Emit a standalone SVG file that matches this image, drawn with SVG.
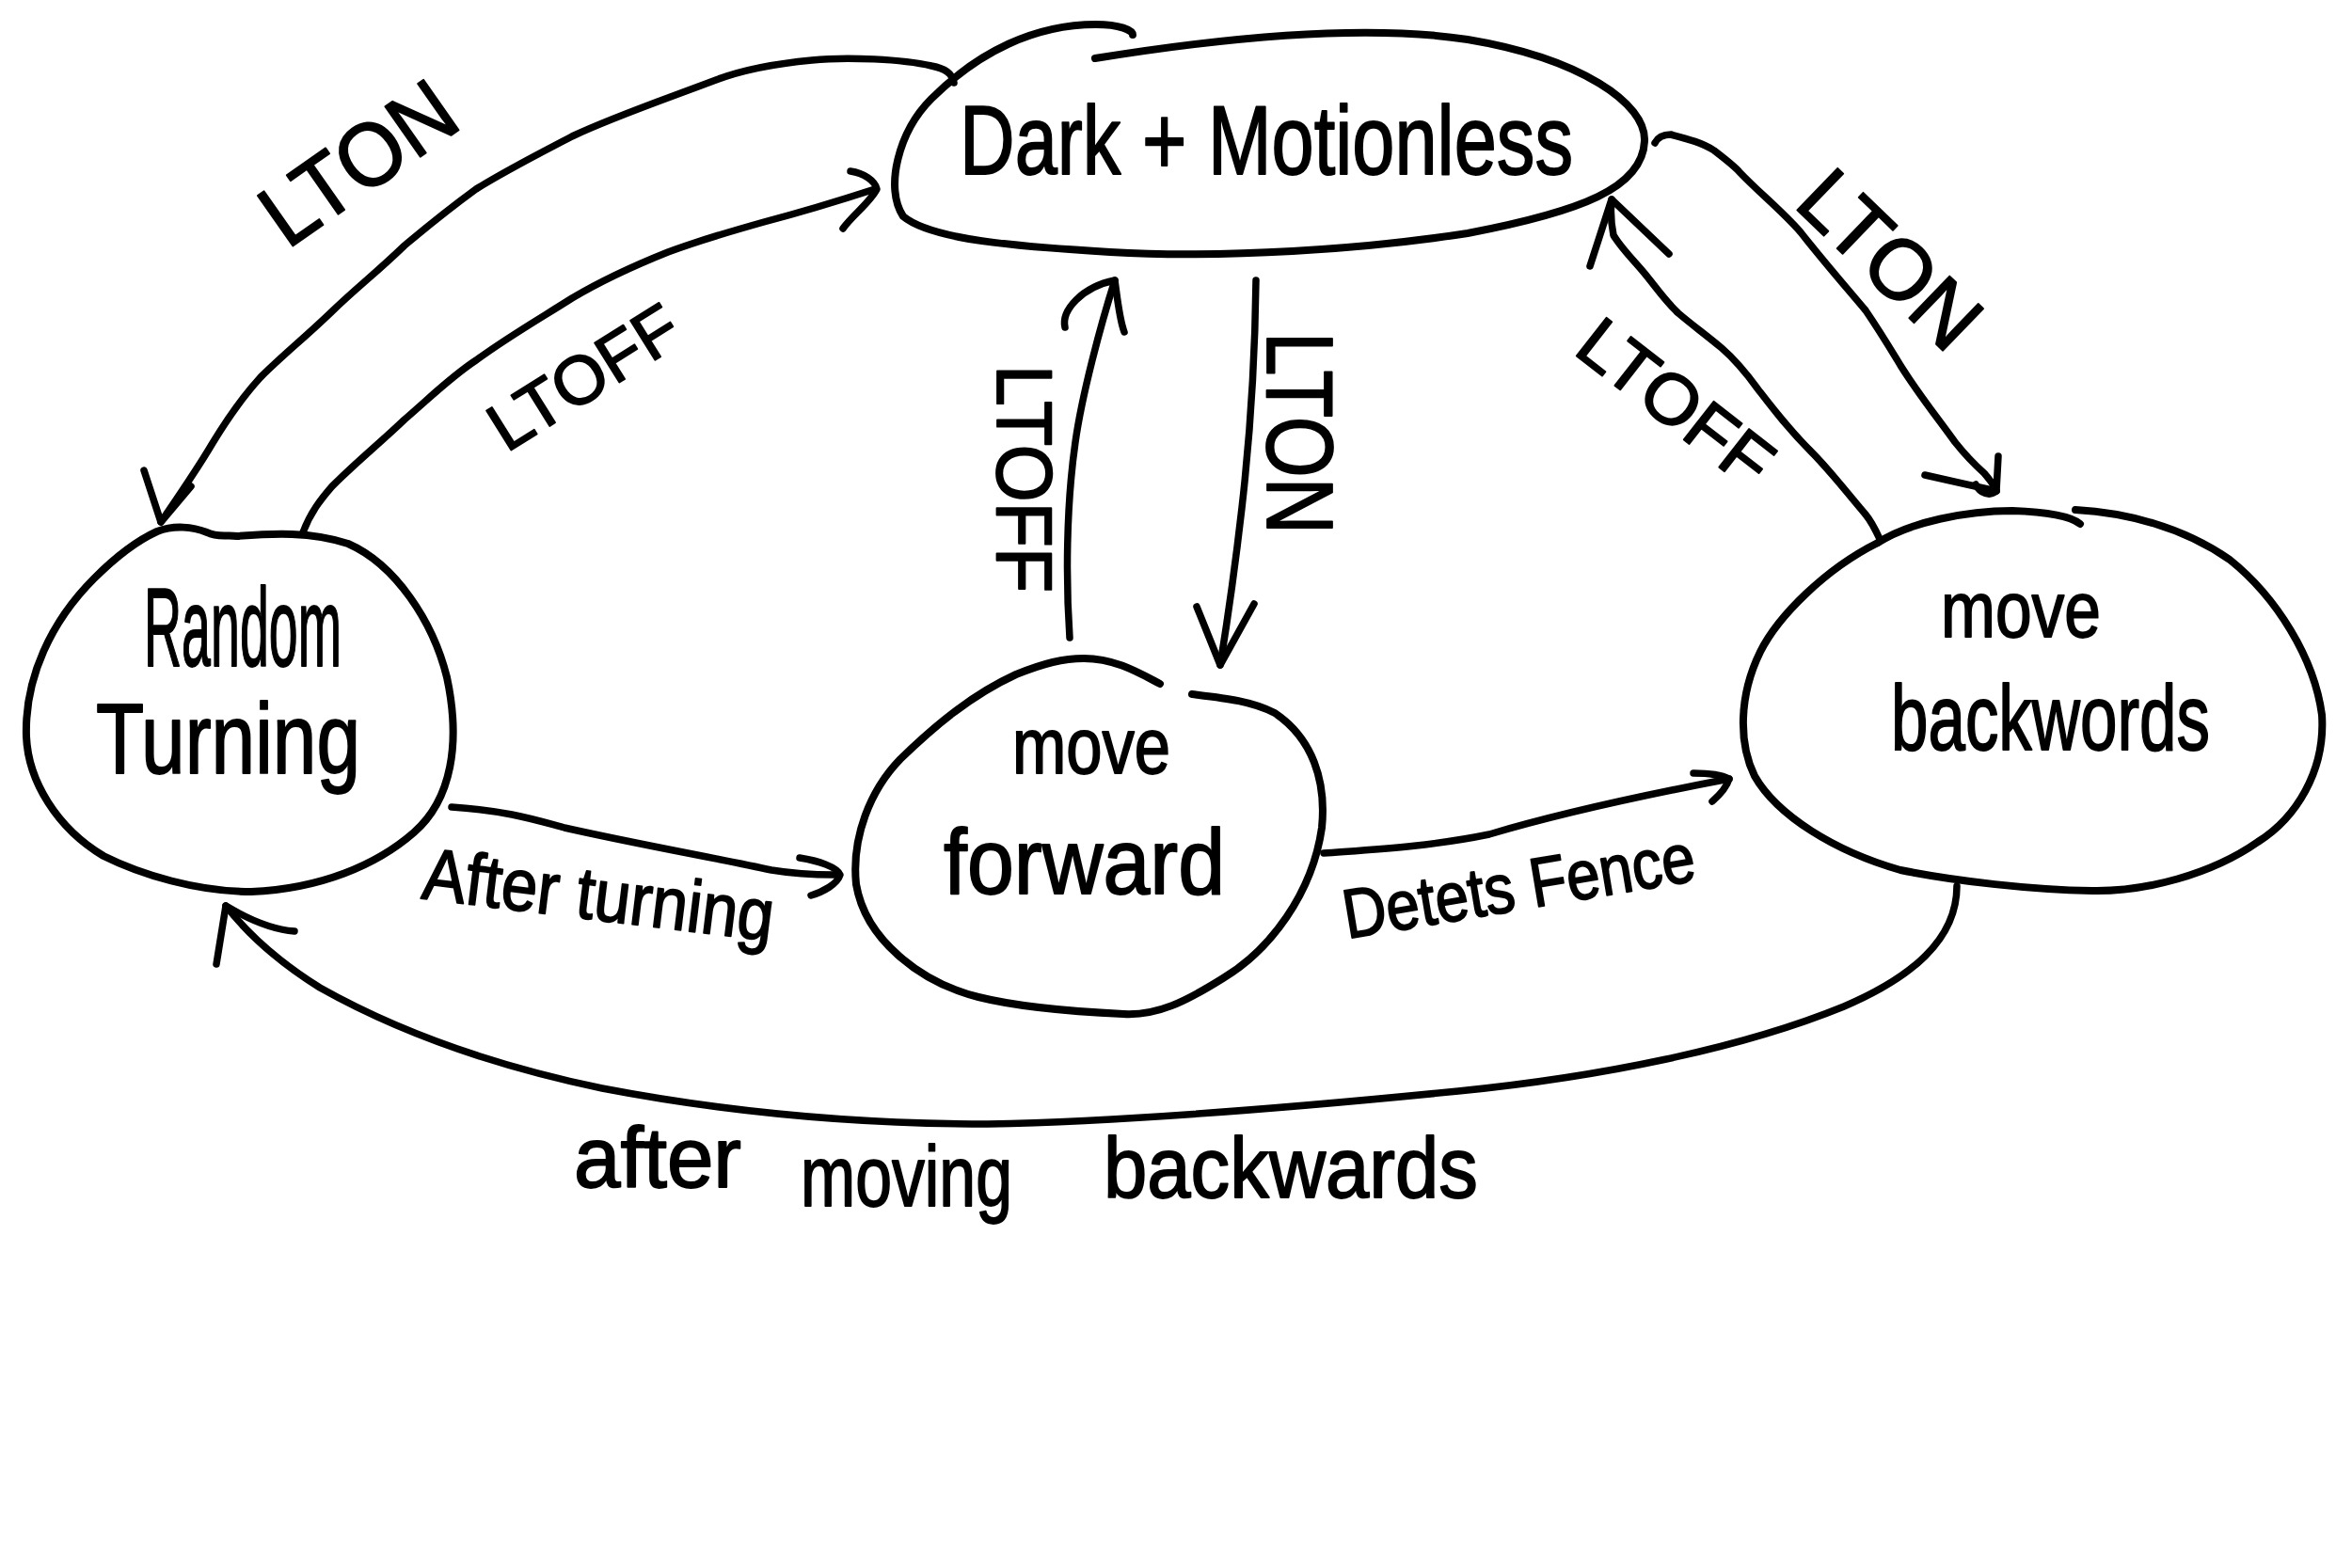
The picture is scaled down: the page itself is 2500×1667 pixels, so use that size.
<svg xmlns="http://www.w3.org/2000/svg" width="2500" height="1667" viewBox="0 0 2500 1667">
<style>
.o{fill:none;stroke:#000;stroke-width:8;stroke-linecap:round;stroke-linejoin:round}
.c{fill:none;stroke:#000;stroke-width:7.5;stroke-linecap:round;stroke-linejoin:round}
.t{font-family:"Liberation Sans",Arial,sans-serif;fill:#000;stroke:#000;stroke-width:1.8;stroke-linejoin:round}
</style>
<rect width="2500" height="1667" fill="#fff"/>
<g id="node-dark-motionless">
<path class="o" d="M1164,62 C1300,40 1450,25 1560,42 C1680,62 1750,110 1748,150 C1746,200 1680,225 1560,248 C1450,265 1300,275 1180,268 C1080,262 990,255 960,230 C940,200 955,140 990,105 C1040,55 1100,26 1165,26 C1190,26 1204,32 1204,37"/>
<text class="t" x="1020" y="185" font-size="104" textLength="652" lengthAdjust="spacingAndGlyphs">Dark + Motionless</text>
</g>
<g id="node-random-turning">
<path class="o" d="M167,565 C185,558 205,560 220,566 C232,572 242,568 252,570 C290,567 330,565 370,578 C420,600 460,660 475,720 C490,790 480,850 440,885 C400,920 340,945 267,948 C210,948 150,930 110,910 C60,880 30,830 28,783 C26,720 55,660 100,615 C120,595 145,575 167,565 Z"/>
<text class="t" x="153" y="708" font-size="118" textLength="210" lengthAdjust="spacingAndGlyphs">Random</text>
<text class="t" x="102" y="822" font-size="105" textLength="281" lengthAdjust="spacingAndGlyphs">Turning</text>
</g>
<g id="node-move-forward">
<path class="o" d="M1267,738 C1300,742 1330,745 1355,758 C1395,785 1410,830 1405,880 C1395,950 1350,1010 1300,1040 C1260,1065 1230,1080 1194,1078 C1130,1075 1080,1070 1040,1060 C980,1045 920,1000 910,940 C905,890 925,840 957,807 C990,775 1030,740 1080,717 C1110,705 1130,700 1152,700 C1185,700 1210,715 1233,727"/>
<text class="t" x="1076" y="822" font-size="84" textLength="168" lengthAdjust="spacingAndGlyphs">move</text>
<text class="t" x="1003" y="950" font-size="98" textLength="299" lengthAdjust="spacingAndGlyphs">forward</text>
</g>
<g id="node-move-backwards">
<path class="o" d="M1996,577 C2030,555 2090,543 2139,543 C2170,544 2200,548 2211,557"/>
<path class="o" d="M2206,542 C2260,545 2320,560 2370,595 C2420,635 2460,700 2468,760 C2472,820 2440,870 2400,895 C2350,930 2280,948 2224,947 C2160,946 2080,937 2020,925 C1950,905 1889,867 1865,825 C1848,790 1848,740 1871,693 C1890,655 1940,605 1996,577"/>
<text class="t" x="2063" y="677" font-size="84" textLength="170" lengthAdjust="spacingAndGlyphs">move</text>
<text class="t" x="2010" y="797" font-size="98" textLength="339" lengthAdjust="spacingAndGlyphs">backwords</text>
</g>
<g id="connectors">
<path class="c" d="M1014,88 C1012,78 1005,73 990,70 C960,63 900,60 863,64 C820,68 790,74 761,85 C700,108 650,125 608,145 C570,165 540,180 506,201 C480,220 455,240 430,261 C400,290 380,305 353,331 C325,358 300,378 277,401 C255,425 240,448 226,471 C212,495 195,520 171,555"/>
<path class="c" d="M153,500 L171,555 L203,517"/>
<path class="c" d="M322,566 C330,545 340,532 353,517 C380,490 405,470 430,446 C460,420 480,400 506,383 C540,358 575,338 608,317 C640,298 675,282 710,268 C745,255 780,245 812,236 C850,226 890,214 930,201"/>
<path class="c" d="M904,182 C918,184 930,192 932,201 C925,215 905,230 896,243"/>
<path class="c" d="M1137,678 C1133,620 1133,540 1143,470 C1150,420 1170,345 1185,298"/>
<path class="c" d="M1132,348 C1128,330 1150,305 1185,298 C1188,320 1190,340 1195,353"/>
<path class="c" d="M1335,298 C1334,380 1328,470 1320,540 C1312,610 1303,670 1297,707"/>
<path class="c" d="M1272,645 L1297,707 L1333,642"/>
<path class="c" d="M1759,152 C1762,146 1768,143 1776,143 C1795,148 1810,152 1822,160 C1835,170 1845,178 1849,183 C1870,205 1895,225 1914,247 C1940,280 1962,305 1983,330 C2000,355 2010,372 2021,390 C2040,420 2060,445 2078,470 C2090,485 2100,495 2109,503 C2115,510 2120,516 2122,522"/>
<path class="c" d="M2046,505 L2122,522 L2124,485"/>
<path class="c" d="M2100,515 C2105,525 2115,528 2122,522" stroke-width="11"/>
<path class="c" d="M1998,573 C1992,560 1988,553 1983,547 C1960,520 1945,500 1925,480 C1900,455 1885,435 1868,413 C1855,395 1845,383 1830,370 C1812,355 1798,345 1784,333 C1768,318 1758,302 1745,287 C1732,272 1722,262 1715,250 C1712,235 1712,222 1713,212"/>
<path class="c" d="M1690,283 L1713,212 L1774,270"/>
<path class="c" d="M480,858 C540,862 570,872 600,880 C680,898 760,912 820,925 C850,930 870,930 887,930"/>
<path class="c" d="M850,912 C870,915 890,922 893,930 C890,940 875,948 862,952"/>
<path class="c" d="M1407,907 C1460,903 1520,900 1583,887 C1650,867 1733,848 1838,828"/>
<path class="c" d="M1800,822 C1815,822 1830,824 1838,828 C1835,838 1828,845 1820,852"/>
<path class="c" d="M2080,942 C2080,1000 2030,1040 1960,1070 C1850,1115 1700,1145 1550,1160 C1400,1175 1200,1192 1050,1195 C900,1195 760,1180 640,1157 C520,1132 420,1095 340,1050 C300,1025 265,995 240,963"/>
<path class="c" d="M230,1025 L240,963 C260,975 285,988 313,990"/>
</g>
<g id="labels">
<text class="t" transform="translate(380,172) rotate(-35)" x="0" y="34" font-size="95" text-anchor="middle" textLength="230" lengthAdjust="spacingAndGlyphs">LTON</text>
<text class="t" transform="translate(620,400) rotate(-32)" x="0" y="26" font-size="72" text-anchor="middle" textLength="225" lengthAdjust="spacingAndGlyphs">LTOFF</text>
<text class="t" transform="translate(1060,388) rotate(90)" x="0" y="0" font-size="84" textLength="242" lengthAdjust="spacingAndGlyphs">LTOFF</text>
<text class="t" transform="translate(1347,353) rotate(90)" x="0" y="0" font-size="100" textLength="215" lengthAdjust="spacingAndGlyphs">LTON</text>
<text class="t" transform="translate(2010,275) rotate(44)" x="0" y="32" font-size="90" text-anchor="middle" textLength="230" lengthAdjust="spacingAndGlyphs">LTON</text>
<text class="t" transform="translate(1782,427) rotate(38)" x="0" y="27" font-size="75" text-anchor="middle" textLength="240" lengthAdjust="spacingAndGlyphs">LTOFF</text>
<text class="t" transform="translate(447,955) rotate(7)" x="0" y="0" font-size="78" textLength="375" lengthAdjust="spacingAndGlyphs">After turning</text>
<text class="t" transform="translate(1432,998) rotate(-9.5)" x="0" y="0" font-size="74" textLength="378" lengthAdjust="spacingAndGlyphs">Detets Fence</text>
<text class="t" font-size="90"><tspan x="610" y="1262" textLength="178" lengthAdjust="spacingAndGlyphs">after</tspan> <tspan x="851" y="1282" textLength="225" lengthAdjust="spacingAndGlyphs">moving</tspan> <tspan x="1173" y="1273" textLength="398" lengthAdjust="spacingAndGlyphs">backwards</tspan></text>
</g>
</svg>
